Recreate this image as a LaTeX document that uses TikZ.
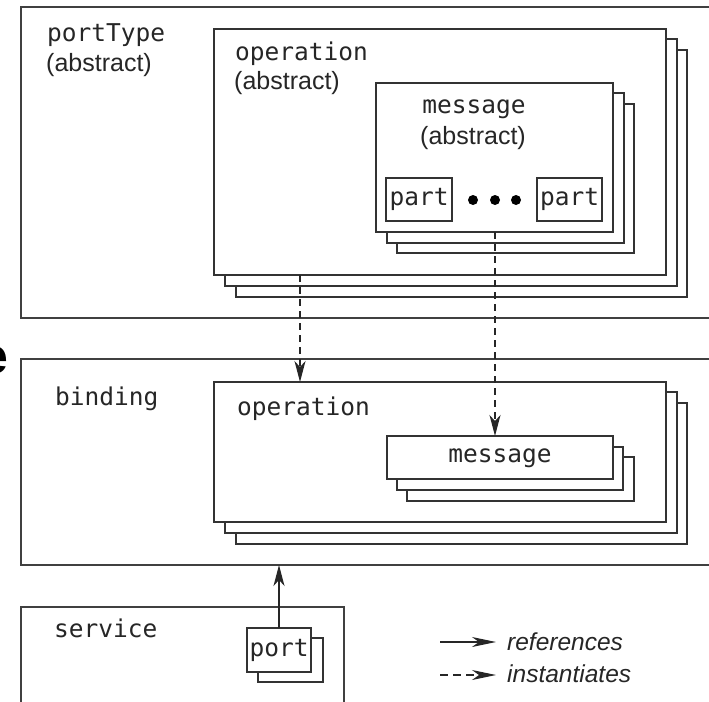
\documentclass[tikz,border=0pt]{standalone}
\usepackage{fontspec}
\setmainfont{Liberation Sans}
\newfontfamily\monofam{DejaVu Sans Mono}
\usetikzlibrary{arrows.meta,calc}

\begin{document}
\begin{tikzpicture}[x=1pt,y=-1pt,
  frame/.style={draw=black!75, line width=1.5pt, inner sep=0pt, outer sep=0pt, anchor=north west},
  box/.style={draw=black!80, line width=1.3pt, fill=white, inner sep=0pt, outer sep=0pt, anchor=north west},
  code/.style={font=\monofam\fontsize{24.5}{28}\selectfont, text=black!85, inner sep=0pt, anchor=base west},
  plain/.style={font=\fontsize{25}{28}\selectfont, text=black!85, inner sep=0pt, anchor=base west},
  legendtext/.style={font=\itshape\fontsize{24.5}{28}\selectfont, text=black!85, inner sep=0pt, anchor=base west},
  dot/.style={circle, fill=black, inner sep=0pt, minimum size=10pt},
  tip/.style={-{Stealth[length=21pt,width=11pt,inset=6pt]}},
  refarrow/.style={tip, draw=black!85, line width=1.3pt},
  instarrow/.style={tip, draw=black!85, line width=1.3pt, dash pattern=on 7pt off 5pt},
]
\useasboundingbox (0,0) rectangle (709,701);

% stray heading letter at the left edge
\node[anchor=base east, inner sep=0pt, font=\bfseries\fontsize{50}{50}\selectfont] (edge) at (9,373) {e};

% ---------------- portType ----------------
\node[frame, minimum width=709pt, minimum height=311pt] (portType) at (21,7) {};
\node[code] (ptName) at (47,42) {portType};
\node[plain] (ptAbs) at (46,71) {(abstract)};

\node[box, minimum width=451pt, minimum height=247pt] (opTc) at (236,50) {};
\node[box, minimum width=452pt, minimum height=247pt] (opTb) at (225,39) {};
\node[box, minimum width=452pt, minimum height=246pt] (opT) at (214,29) {};
\node[code] (opTName) at (235,60) {operation};
\node[plain] (opTAbs) at (234,89) {(abstract)};

\node[box, minimum width=237pt, minimum height=149pt] (msgTc) at (397,104) {};
\node[box, minimum width=237pt, minimum height=150pt] (msgTb) at (387,93) {};
\node[box, minimum width=237pt, minimum height=149pt] (msgT) at (376,83) {};
\node[code, anchor=base] (msgTName) at (474,113) {message};
\node[plain, anchor=base] (msgTAbs) at (473,144) {(abstract)};

\node[box, minimum width=66pt, minimum height=43pt] (partA) at (386,178) {};
\node[code, anchor=base] (partAName) at (partA.center) [yshift=-6pt] {part};
\node[box, minimum width=65pt, minimum height=43pt] (partB) at (537,178) {};
\node[code, anchor=base] (partBName) at (partB.center) [yshift=-6pt] {part};
\node[dot] (d1) at (473,200) {};
\node[dot] (d2) at (495,200) {};
\node[dot] (d3) at (516,200) {};

% ---------------- binding ----------------
\node[frame, minimum width=709pt, minimum height=206pt] (binding) at (21,359) {};
\node[code] (bName) at (55,405) {binding};

\node[box, minimum width=451pt, minimum height=141pt] (opBc) at (236,403) {};
\node[box, minimum width=452pt, minimum height=141pt] (opBb) at (225,392) {};
\node[box, minimum width=452pt, minimum height=140pt] (opB) at (214,382) {};
\node[code] (opBName) at (237,415) {operation};

\node[box, minimum width=227pt, minimum height=44pt] (msgBc) at (407,457) {};
\node[box, minimum width=226pt, minimum height=43pt] (msgBb) at (397,447) {};
\node[box, minimum width=226pt, minimum height=43pt] (msgB) at (387,436) {};
\node[code, anchor=base] (msgBName) at (msgB.center) [yshift=-5pt] {message};

% ---------------- service ----------------
\node[frame, minimum width=323pt, minimum height=120pt] (service) at (21,607) {};
\node[code] (sName) at (54,637) {service};
\node[box, minimum width=65pt, minimum height=44pt] (portb) at (258,638) {};
\node[box, minimum width=64pt, minimum height=44pt] (port) at (247,628) {};
\node[code, anchor=base] (portName) at (port.center) [yshift=-6pt] {port};

% ---------------- connectors ----------------
\coordinate (opOut) at ($(opT.south west)+(86,0)$);
\draw[instarrow] (opOut) -- (opOut |- opB.north);
\coordinate (msgOut) at ($(msgT.south west)+(119,0)$);
\draw[instarrow] (msgOut) -- (msgOut |- msgB.north);
\draw[refarrow] (port.north) -- (port.north |- binding.south);

% ---------------- legend ----------------
\node[legendtext] (refs) at (507,650) {references};
\node[legendtext] (inst) at (507,682) {instantiates};
\coordinate (refStart) at (440,642);
\coordinate (instStart) at (440,675);
\draw[refarrow, -{Stealth[length=24pt,width=10pt,inset=7pt]}] (refStart) -- ($(refStart -| refs.west)+(-11,0)$);
\draw[instarrow, -{Stealth[length=24pt,width=10pt,inset=7pt]}, dash pattern=on 8pt off 5pt] (instStart) -- ($(instStart -| inst.west)+(-11,0)$);
\end{tikzpicture}
\end{document}
